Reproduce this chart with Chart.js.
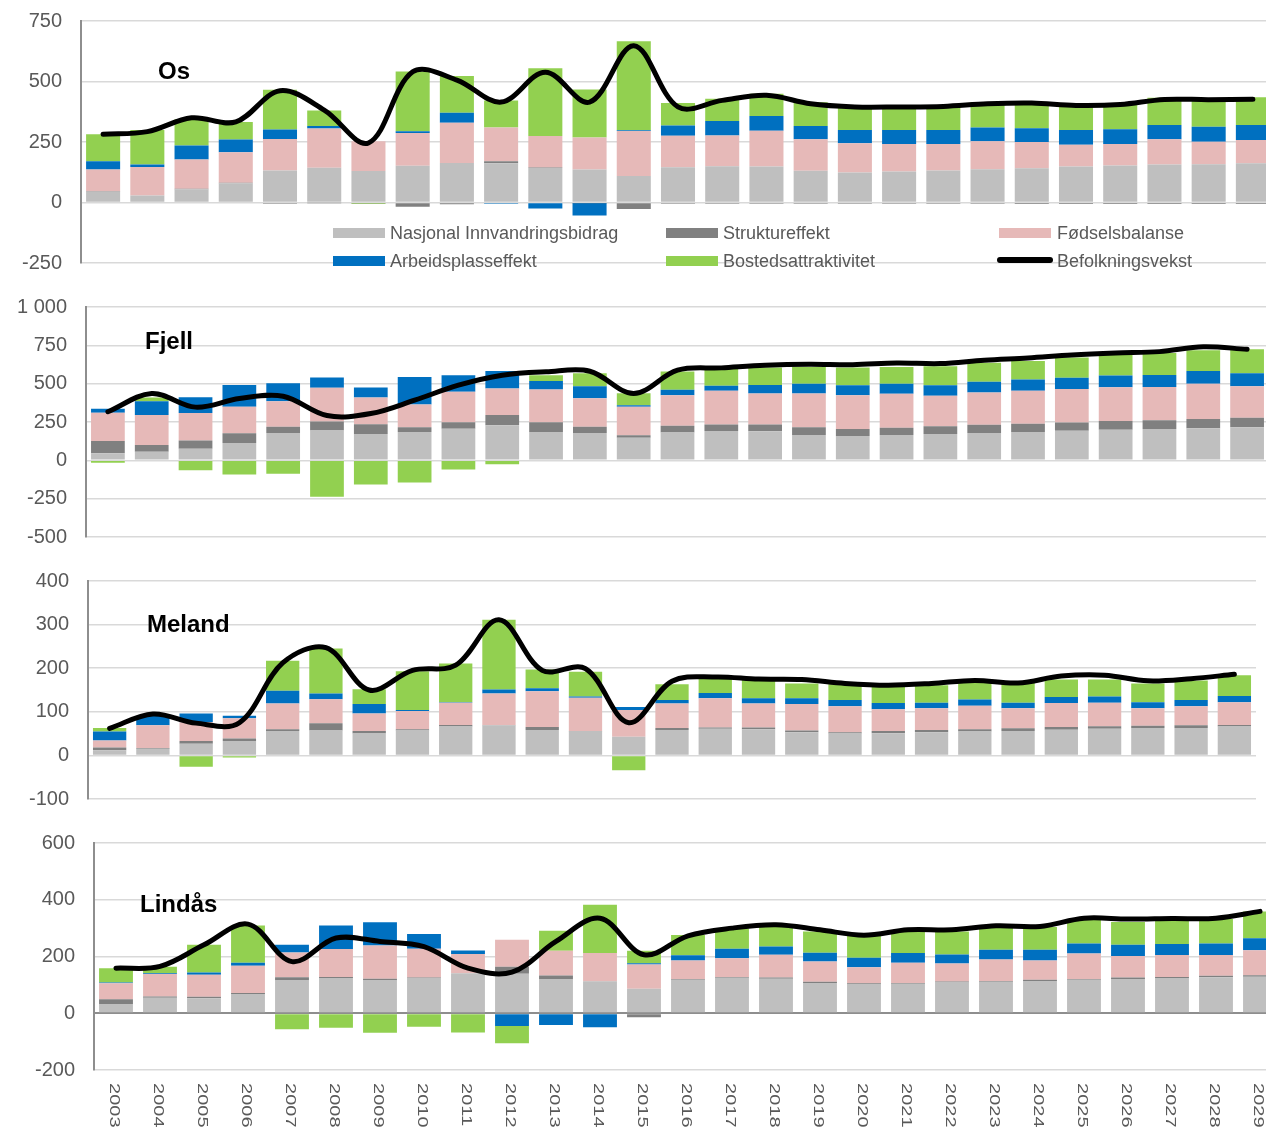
<!DOCTYPE html>
<html><head><meta charset="utf-8">
<script src="https://cdn.jsdelivr.net/npm/chart.js@4.4.1/dist/chart.umd.min.js"></script>
<style>
html,body{margin:0;padding:0;width:1266px;height:1128px;overflow:hidden;background:#fff;font-family:"Liberation Sans",Arial,sans-serif;}
canvas{position:absolute;left:0;}
.t{position:absolute;font-weight:bold;font-size:24px;line-height:24px;color:#000;white-space:nowrap;}
.lt{position:absolute;font-size:18px;line-height:18px;color:#595959;white-space:nowrap;}
.sw{position:absolute;width:52px;height:10px;}
</style></head><body>
<canvas id="cOs" width="1275" height="322" style="top:-19px"></canvas>
<canvas id="cFjell" width="1269" height="310" style="top:267px"></canvas>
<canvas id="cMeland" width="1256" height="298" style="top:541px"></canvas>
<canvas id="cLindas" width="1282" height="325" style="top:803px"></canvas>

<div class="t" style="left:158px;top:59px">Os</div>
<div class="t" style="left:145px;top:329px">Fjell</div>
<div class="t" style="left:147px;top:612px">Meland</div>
<div class="t" style="left:140px;top:892px">Lindås</div>

<div class="sw" style="left:333px;top:228px;background:#BFBFBF"></div>
<div class="lt" style="left:390px;top:224px">Nasjonal Innvandringsbidrag</div>
<div class="sw" style="left:666px;top:228px;background:#808080"></div>
<div class="lt" style="left:723px;top:224px">Struktureffekt</div>
<div class="sw" style="left:999px;top:228px;background:#E6B9B8"></div>
<div class="lt" style="left:1057px;top:224px">Fødselsbalanse</div>
<div class="sw" style="left:333px;top:256px;background:#0070C0"></div>
<div class="lt" style="left:390px;top:252px">Arbeidsplasseffekt</div>
<div class="sw" style="left:666px;top:256px;background:#92D050"></div>
<div class="lt" style="left:723px;top:252px">Bostedsattraktivitet</div>
<div class="sw" style="left:997px;top:257px;width:56px;height:6px;border-radius:3px;background:#000"></div>
<div class="lt" style="left:1057px;top:252px">Befolkningsvekst</div>

<script>
const years = ['2003','2004','2005','2006','2007','2008','2009','2010','2011','2012','2013','2014','2015','2016','2017','2018','2019','2020','2021','2022','2023','2024','2025','2026','2027','2028','2029'];
const seriesNames = ['Nasjonal Innvandringsbidrag','Struktureffekt','Fødselsbalanse','Arbeidsplasseffekt','Bostedsattraktivitet','Befolkningsvekst'];

// Os
const osNasjonal = [44,29,55,80,132,144,130,152,163,162,143,136,110,146,150,149,131,124,128,132,137,142,149,153,157,158,162];
const osStruktur = [3,-3,2,2,-5,-1,-2,-18,-7,8,2,-2,-27,-5,-5,-5,-5,-5,-5,-5,-5,-6,-6,-6,-6,-6,-6];
const osFodsel = [89,118,121,126,130,162,123,135,167,140,130,133,185,130,127,147,130,121,114,110,116,108,90,89,104,93,96];
const osArbeid = [34,10,58,52,40,10,0,7,41,-5,-25,-52,4,42,60,61,55,55,58,58,57,57,61,61,59,62,62];
const osBosted = [112,143,108,73,164,64,-3,247,152,112,280,198,367,93,92,92,98,95,95,95,105,105,108,108,113,115,115];
const osVekst = [282,293,350,333,462,382,246,540,506,415,538,415,648,395,422,443,408,395,395,397,408,411,401,405,426,425,427];
const osTicks = [-250,0,250,500,750];

// Fjell
const fjNasjonal = [46,56,76,113,178,195,171,184,206,228,184,178,147,182,191,189,165,158,165,171,178,184,193,199,204,210,215];
const fjStruktur = [80,44,54,63,41,59,65,31,43,67,65,41,16,43,43,45,50,46,47,52,54,54,54,57,58,59,63];
const fjFodsel = [184,195,178,173,167,219,174,149,198,173,213,186,186,200,219,202,221,221,222,198,210,215,219,221,217,230,205];
const fjArbeid = [26,91,104,143,117,67,65,180,108,115,56,78,11,35,33,56,63,65,65,69,70,74,72,76,78,84,85];
const fjBosted = [-15,24,-65,-93,-87,-238,-158,-145,-59,-26,37,85,78,119,119,113,110,115,110,124,124,121,132,134,143,135,156];
const fjVekst = [317,436,347,403,418,292,305,392,490,555,577,581,436,588,603,620,627,624,635,631,653,668,687,700,709,741,724];
const fjTicks = [-500,-250,0,250,500,750,1000];

// Meland
const meNasjonal = [12,15,27,33,56,57,50,57,66,69,58,55,43,58,61,60,53,50,51,53,55,56,59,61,63,63,66];
const meStruktur = [6,2,6,6,4,17,6,3,4,1,7,1,0,5,3,4,4,3,5,5,5,6,6,6,5,6,4];
const meFodsel = [16,52,43,46,59,55,40,42,51,72,82,76,61,56,67,55,61,60,50,50,54,46,55,54,40,44,52];
const meArbeid = [21,22,20,6,29,13,22,2,1,9,7,3,7,8,12,12,13,14,14,13,14,13,14,14,14,14,14];
const meBosted = [8,0,-26,-5,69,103,34,89,89,160,43,57,-34,36,38,42,34,36,41,40,41,48,40,39,43,45,48];
const meVekst = [62,95,74,75,212,247,150,195,207,311,195,199,75,170,180,175,174,165,161,165,172,166,182,184,171,176,186];
const meTicks = [-100,0,100,200,300,400];

// Lindås
const liNasjonal = [33,55,53,68,115,124,115,124,141,139,119,112,86,118,125,122,107,101,104,108,111,114,118,121,124,127,129];
const liStruktur = [16,4,5,3,12,4,7,2,0,25,14,1,-14,3,3,4,4,5,3,4,3,4,3,5,4,5,5];
const liFodsel = [57,79,78,96,87,98,117,101,68,95,87,99,86,65,66,80,71,56,71,63,75,68,90,76,77,73,88];
const liArbeid = [2,3,8,11,27,83,82,52,12,-45,-41,-49,4,18,33,29,31,34,34,32,35,38,35,39,39,41,42];
const liBosted = [51,23,97,131,-56,-51,-69,-48,-68,-61,71,170,44,72,72,71,75,77,76,81,80,80,83,81,85,86,95];
const liVekst = [159,165,241,314,182,265,253,235,159,145,253,335,206,273,300,312,294,275,294,294,308,306,335,332,334,335,359];
const liTicks = [-200,0,200,400,600];

const FONT = '"Liberation Sans", Arial, sans-serif';
const colors = ['#BFBFBF','#808080','#E6B9B8','#0070C0','#92D050'];

function fmt(v){ return String(v).replace(/\B(?=(\d{3})+(?!\d))/g,' '); }

const xLabelPlugin = {
  id:'xlabels',
  afterDraw(chart){
    if(!chart.options.plugins.xlabels || !chart.options.plugins.xlabels.show) return;
    const ctx = chart.ctx, xs = chart.scales.x;
    ctx.save();
    ctx.fillStyle = '#595959';
    ctx.font = '14px ' + FONT;
    ctx.textAlign = 'left';
    ctx.textBaseline = 'middle';
    chart.data.labels.forEach((lab,i)=>{
      const x = xs.getPixelForTick(i) - 2;
      ctx.save();
      ctx.translate(x, chart.chartArea.bottom + 13);
      ctx.scale(1, 1.43);
      ctx.rotate(Math.PI/2);
      ctx.fillText(lab, 0, 0);
      ctx.restore();
    });
    ctx.restore();
  }
};

function build(id, axisLeft, padBottom, ticks, bars, vekst, darkZero, showX){
  const datasets = [{
    type:'line', label: seriesNames[5], data: vekst, borderColor:'#000', borderWidth:5,
    pointRadius:0, pointHoverRadius:0, tension:0.35, fill:false, order:0, stack:'line',
    borderCapStyle:'round', borderJoinStyle:'round'
  }];
  bars.forEach((arr,i)=>datasets.push({
    type:'bar', label: seriesNames[i], data: arr, backgroundColor: colors[i], borderWidth:0, order:1, stack:'bars'
  }));
  return new Chart(document.getElementById(id), {
    type:'bar',
    data:{ labels: years, datasets },
    plugins:[xLabelPlugin],
    options:{
      responsive:false, animation:false, devicePixelRatio:1,
      layout:{padding:{top:40,bottom:padBottom,left:0,right:0}},
      plugins:{legend:{display:false}, tooltip:{enabled:false}, xlabels:{show:showX}},
      datasets:{bar:{categoryPercentage:1, barPercentage:0.77}},
      scales:{
        x:{display:false, stacked:true, offset:true, grid:{display:false}},
        y:{
          stacked:true, min: ticks[0], max: ticks[ticks.length-1],
          afterFit: s => { s.width = axisLeft; },
          afterBuildTicks: s => { s.ticks = ticks.map(v=>({value:v})); },
          ticks:{padding:19, color:'#595959', font:{size:20, family:FONT}, callback: v => fmt(v)},
          grid:{
            drawTicks:false,
            color: c => (darkZero && c.tick && c.tick.value===0) ? '#8E8E8E' : '#D9D9D9',
            lineWidth: c => (darkZero && c.tick && c.tick.value===0) ? 2 : 1.5
          },
          border:{display:true, color:'#8E8E8E', width:2}
        }
      }
    }
  });
}

build('cOs', 81, 40, osTicks, [osNasjonal,osStruktur,osFodsel,osArbeid,osBosted], osVekst, false, false);
build('cFjell', 86, 40, fjTicks, [fjNasjonal,fjStruktur,fjFodsel,fjArbeid,fjBosted], fjVekst, false, false);
build('cMeland', 88, 40, meTicks, [meNasjonal,meStruktur,meFodsel,meArbeid,meBosted], meVekst, false, false);
build('cLindas', 94, 58, liTicks, [liNasjonal,liStruktur,liFodsel,liArbeid,liBosted], liVekst, true, true);
</script>
</body></html>
